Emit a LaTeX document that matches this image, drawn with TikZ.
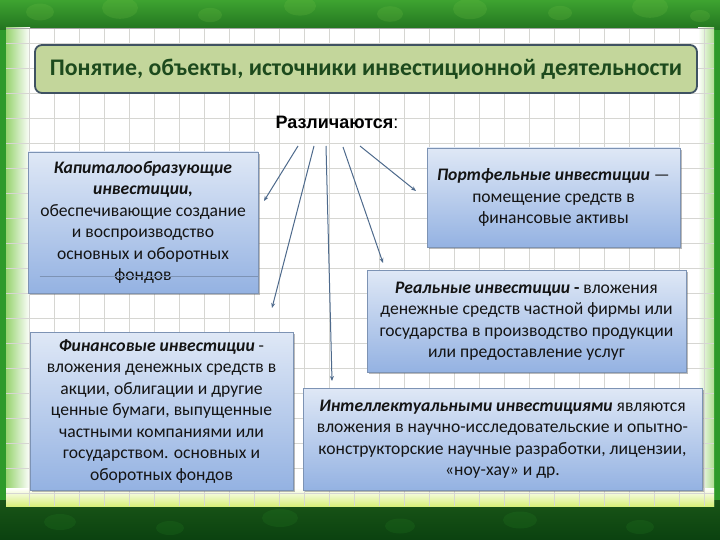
\documentclass[tikz,border=0pt]{standalone}
\usepackage{fontspec}
\setmainfont{Carlito}
\newfontfamily\arialf{Liberation Sans}
\usetikzlibrary{arrows.meta,shadows,calc}
\definecolor{bluetop}{HTML}{DFE8F6}
\definecolor{bluebot}{HTML}{94B2E2}
\definecolor{boxborder}{HTML}{7D93B4}
\definecolor{titlefill}{HTML}{C3D69B}
\definecolor{titleborder}{HTML}{3F5262}
\definecolor{titletext}{HTML}{1D4A1D}
\definecolor{arrowcol}{HTML}{4E6A8C}
\definecolor{leafdark}{HTML}{0F5E16}
\definecolor{leafmid}{HTML}{2E9A2A}
\definecolor{leaflight}{HTML}{7CC84A}
\definecolor{gridcol}{HTML}{D6D6D2}
\tikzset{
  infobox/.style={draw=boxborder, line width=0.8pt, top color=bluetop, bottom color=bluebot,
    align=center, inner sep=2pt, text=black!92,
    font=\fontsize{17.6}{21.5}\selectfont,
    drop shadow={shadow xshift=1.6pt, shadow yshift=-1.6pt, opacity=0.45, fill=black!60}},
  titlebox/.style={draw=titleborder, line width=1.8pt, fill=titlefill, rounded corners=7pt,
    text=titletext, font=\fontsize{23.8}{26}\selectfont\bfseries, align=center},
  fanarrow/.style={draw=arrowcol, line width=1pt, -{Stealth[length=5pt,width=4pt]}},
}
\begin{document}
\begin{tikzpicture}[x=1pt,y=-1pt]
\useasboundingbox (0,0) rectangle (720,540);
% green foliage background
\fill[leafmid] (0,0) rectangle (720,540);
\shade[top color=leafmid!80!leaflight, bottom color=leafmid!75!black] (0,0) rectangle (720,30);
\shade[top color=leafmid!55!black, bottom color=leafdark!70!black] (0,500) rectangle (720,540);
\foreach \cx/\cy/\r in {40/12/14, 120/8/18, 210/15/12, 300/6/16, 390/14/13, 470/9/17, 560/13/12, 650/7/18, 700/16/10}
  \fill[leaflight, opacity=0.18] (\cx,\cy) ellipse [x radius=\r, y radius=\r*0.6];
\foreach \cx/\cy/\r in {60/522/16, 170/528/14, 280/518/18, 400/526/15, 520/520/17, 640/527/14}
  \fill[leafmid, opacity=0.15] (\cx,\cy) ellipse [x radius=\r, y radius=\r*0.5];
% paper
\fill[white] (6,28) rectangle (714,506);
\shade[left color=leaflight!80, right color=white] (6,28) rectangle (30,506);
\shade[left color=white, right color=leaflight!60] (698,28) rectangle (714,506);
\shade[top color=white, bottom color=leaflight!50!yellow!60] (6,488) rectangle (714,506);
% grid
\foreach \gx in {29,54,...,704} \draw[gridcol, line width=0.8pt] (\gx,28) -- (\gx,506);
\foreach \gy in {43,68,...,500} \draw[gridcol, line width=0.8pt] (6,\gy) -- (714,\gy);
\draw[black!35, line width=1.2pt] (6,28.5) -- (714,28.5);
% title
\node[titlebox, minimum width=662pt, minimum height=48pt] (title) at (366,69)
  {Понятие, объекты, источники инвестиционной деятельности};
% label
\node[font=\arialf\fontsize{18}{20}\selectfont, text=black] (lbl) at (337,122)
  {\textbf{Различаются}:};
% boxes
\node[infobox, minimum width=230pt, minimum height=141pt] (b1) at (143,222.5)
  {\textbf{\textit{Капиталообразующие}}\\ \textbf{\textit{инвестиции,}}\\ обеспечивающие создание\\ и воспроизводство\\ основных и оборотных\\ фондов};
\draw[boxborder, line width=0.8pt] ($(b1.south west)+(12,-17)$) -- ($(b1.south east)+(0,-17)$);
\node[infobox, minimum width=263pt, minimum height=158pt] (b2) at (161.5,411)
  {\textbf{\textit{Финансовые инвестиции}} -\\ вложения денежных средств в\\ акции, облигации и другие\\ ценные бумаги, выпущенные\\ частными компаниями или\\ государством. основных и\\ оборотных фондов};
\node[infobox, minimum width=253pt, minimum height=99pt] (b3) at (553.5,197.5)
  {\textbf{\textit{Портфельные инвестиции}} —\\ помещение средств в\\ финансовые активы};
\node[infobox, minimum width=319pt, minimum height=102pt] (b4) at (526.5,321)
  {\textbf{\textit{Реальные инвестиции}} \textbf{-} вложения\\ денежные средств частной фирмы или\\ государства в производство продукции\\ или предоставление услуг};
\node[infobox, minimum width=399pt, minimum height=102pt] (b5) at (502.5,439)
  {\textbf{\textit{Интеллектуальными инвестициями}} являются\\ вложения в научно-исследовательские и опытно-\\ конструкторские научные разработки, лицензии,\\ «ноу-хау» и др.};
% arrows
\coordinate (s1) at (298,146); \coordinate (e1) at (264,201);
\coordinate (s2) at (314,146); \coordinate (e2) at (272,308);
\coordinate (s3) at (326,146); \coordinate (e3) at (332,381);
\coordinate (s4) at (343,147); \coordinate (e4) at (383,263);
\coordinate (s5) at (360,146); \coordinate (e5) at (416,191);
\draw[fanarrow] (s1) -- (e1);
\draw[fanarrow] (s2) -- (e2);
\draw[fanarrow] (s3) -- (e3);
\draw[fanarrow] (s4) -- (e4);
\draw[fanarrow] (s5) -- (e5);
\end{tikzpicture}
\end{document}
